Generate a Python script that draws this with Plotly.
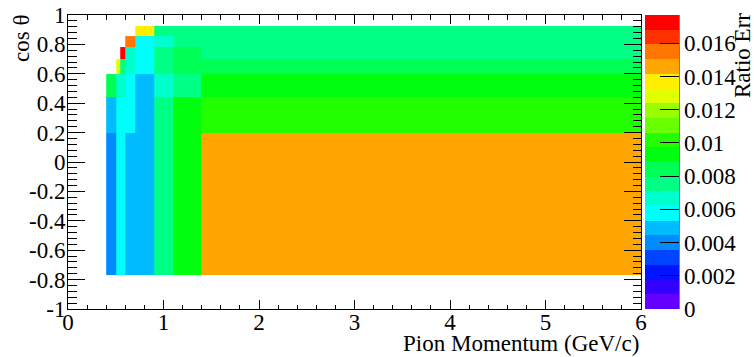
import numpy as np
import plotly.graph_objects as go
import colorsys

# Bin edges of the 2D histogram
p_edges = [0.4, 0.5, 0.55, 0.6, 0.7, 0.9, 1.1, 1.4, 6.0]          # pion momentum (GeV/c)
cos_edges = [-0.77, 0.2, 0.44, 0.6, 0.7, 0.78, 0.86, 0.925]        # cos(theta)

# Ratio error per bin, one list per cos(theta) row (bottom -> top); None = empty bin
row_m077_020 = [0.0040, 0.0057, 0.0057, 0.0049, 0.0049, 0.0075, 0.0093, 0.0146]
row_020_044 = [0.0049, 0.0057, 0.0057, 0.0057, 0.0049, 0.0075, 0.0093, 0.0102]
row_044_060 = [0.0084, 0.0066, 0.0066, 0.0057, 0.0049, 0.0066, 0.0075, 0.0093]
row_060_070 = [None, 0.0128, 0.0075, 0.0066, 0.0057, 0.0075, 0.0084, 0.0084]
row_070_078 = [None, None, 0.0177, 0.0066, 0.0057, 0.0075, 0.0084, 0.0075]
row_078_086 = [None, None, None, 0.0155, 0.0057, 0.0066, 0.0075, 0.0075]
row_086_093 = [None, None, None, None, 0.0137, 0.0075, 0.0075, 0.0075]

rows = [row_m077_020, row_020_044, row_044_060, row_060_070,
        row_070_078, row_078_086, row_086_093]
z = np.array([[np.nan if v is None else v for v in r] for r in rows])

# Axis / palette tick labels
y_ticks = [-1, -0.8, -0.6, -0.4, -0.2, 0, 0.2, 0.4, 0.6, 0.8, 1]
y_ticktext = ["-1", "-0.8", "-0.6", "-0.4", "-0.2", "0", "0.2", "0.4", "0.6", "0.8", "1"]
x_ticks = [0, 1, 2, 3, 4, 5, 6]
z_ticks = [0, 0.002, 0.004, 0.006, 0.008, 0.01, 0.012, 0.014, 0.016]
z_ticktext = ["0", "0.002", "0.004", "0.006", "0.008", "0.01", "0.012", "0.014", "0.016"]


# ROOT "pretty" palette (HLS hues 280 -> 0) sampled at 20 contour levels
def hls_color(h):
    r, g, b = colorsys.hls_to_rgb(h / 360.0, 0.5, 1.0)
    return "rgb(%d,%d,%d)" % (round(r * 255), round(g * 255), round(b * 255))


ncont, npal = 20, 50
band_colors = []
for k in range(ncont):
    j = int((k + 0.99) * npal / ncont)
    hue = max(280 - (j + 1) * 280 / npal, 0)
    band_colors.append(hls_color(hue))
colorscale = []
for k, c in enumerate(band_colors):
    colorscale.append([k / ncont, c])
    colorscale.append([(k + 1) / ncont, c])

FONT = "Liberation Serif"
FS = 23
W, H = 754, 357
L, R, T, B = 68, 113, 15, 48
PW, PH = W - L - R, H - T - B
CB_LEFT, CB_THICK = 645, 34

fig = go.Figure(go.Heatmap(
    x=p_edges, y=cos_edges, z=z,
    zmin=0, zmax=float(np.nanmax(z)),
    colorscale=colorscale,
    hoverongaps=False,
    colorbar=dict(
        thickness=CB_THICK, thicknessmode="pixels",
        len=1, lenmode="fraction",
        xref="container", yref="paper",
        x=CB_LEFT / W, xanchor="left",
        y=0.5, yanchor="middle",
        xpad=0, ypad=0, outlinewidth=0,
        tickmode="array", tickvals=z_ticks, ticktext=z_ticktext,
        ticks="inside", ticklen=19, tickcolor="black", tickwidth=1,
        tickfont=dict(family=FONT, size=FS, color="black"),
    ),
))

fig.update_layout(
    width=W, height=H,
    margin=dict(l=L, r=R, t=T, b=B),
    paper_bgcolor="white", plot_bgcolor="white",
    font=dict(family=FONT, size=FS, color="black"),
    xaxis=dict(
        range=[0, 6], tickmode="array", tickvals=x_ticks,
        ticks="inside", ticklen=9, tickcolor="black",
        showline=True, linecolor="black", linewidth=1, mirror="ticks",
        showgrid=False, zeroline=False, automargin=False,
        ticklabelstandoff=-8,
        minor=dict(dtick=0.2, ticks="inside", ticklen=4.5, tickcolor="black", showgrid=False),
        tickfont=dict(family=FONT, size=FS, color="black"),
    ),
    yaxis=dict(
        range=[-1, 1], tickmode="array", tickvals=y_ticks, ticktext=y_ticktext,
        ticks="inside", ticklen=17, tickcolor="black",
        showline=True, linecolor="black", linewidth=1, mirror="ticks",
        showgrid=False, zeroline=False, automargin=False,
        ticklabelstandoff=-3,
        minor=dict(dtick=0.04, ticks="inside", ticklen=8.5, tickcolor="black", showgrid=False),
        tickfont=dict(family=FONT, size=FS, color="black"),
    ),
    annotations=[
        dict(text="Pion Momentum (GeV/c)", xref="paper", yref="paper",
             x=1, y=-(343 - (T + PH)) / PH, xanchor="right", yanchor="middle",
             showarrow=False, font=dict(family=FONT, size=FS, color="black")),
        dict(text="cos θ", xref="paper", yref="paper", textangle=-90,
             x=(22 - L) / PW, y=1 - (39 - T) / PH, xanchor="center", yanchor="middle",
             showarrow=False, font=dict(family=FONT, size=FS, color="black")),
        dict(text="Ratio Err", xref="paper", yref="paper", textangle=-90,
             x=(742 - L) / PW, y=1 - (56 - T) / PH, xanchor="center", yanchor="middle",
             showarrow=False, font=dict(family=FONT, size=FS, color="black")),
    ],
    shapes=[
        dict(type="line", xref="paper", yref="paper",
             x0=(CB_LEFT + CB_THICK - L) / PW, x1=(CB_LEFT + CB_THICK - L) / PW,
             y0=0, y1=1, line=dict(color="black", width=1)),
    ],
)

fig.write_html("out.html")
